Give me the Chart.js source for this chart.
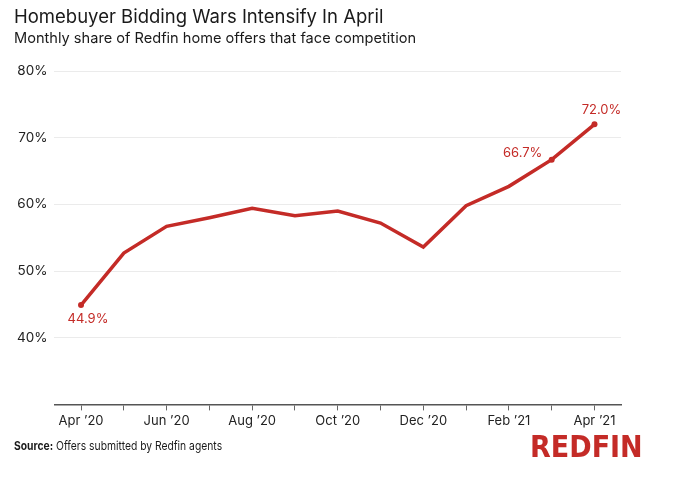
<!DOCTYPE html>
<html>
<head>
<meta charset="utf-8">
<script src="https://cdn.jsdelivr.net/npm/chart.js@4/dist/chart.umd.min.js"></script>
<style>
  html, body { margin: 0; padding: 0; background: #fff; }
  #wrap { width: 700px; height: 477px; position: relative; }
</style>
</head>
<body>
<div id="wrap"><canvas id="c" width="700" height="477"></canvas></div>
<script>
const months = ["Apr \u201920","May \u201920","Jun \u201920","Jul \u201920","Aug \u201920","Sep \u201920","Oct \u201920","Nov \u201920","Dec \u201920","Jan \u201921","Feb \u201921","Mar \u201921","Apr \u201921"];
const shareWithCompetition = [44.9, 52.7, 56.7, 58.0, 59.4, 58.3, 59.0, 57.2, 53.6, 59.8, 62.7, 66.7, 72.0];
const labeledPoints = [0, 11, 12];
const yTicks = [40, 50, 60, 70, 80];

const titleText = "Homebuyer Bidding Wars Intensify In April";
const subtitleText = "Monthly share of Redfin home offers that face competition";
const sourceLabel = "Source:";
const sourceText = " Offers submitted by Redfin agents";

const RED = "#c42b27";
const FONT = "Inter, 'Open Sans', sans-serif";

const points = shareWithCompetition.map((v, i) => ({ x: i, y: v }));

const decorPlugin = {
  id: 'decor',
  afterDraw(chart) {
    const ctx = chart.ctx;
    ctx.save();
    ctx.textBaseline = 'middle';
    ctx.textAlign = 'left';
    ctx.fillStyle = '#1a1a1a';
    ctx.font = "18.5px " + FONT;
    ctx.fillText(titleText, 14, 17);
    ctx.font = "14.6px " + FONT;
    ctx.fillText(subtitleText, 14, 39);
    // source (condensed)
    ctx.save();
    ctx.translate(14, 446);
    ctx.scale(0.86, 1);
    ctx.font = "bold 12px " + FONT;
    ctx.fillText(sourceLabel, 0, 0);
    const w = ctx.measureText(sourceLabel).width;
    ctx.font = "12px " + FONT;
    ctx.fillText(sourceText, w, 0);
    ctx.restore();
    // logo
    ctx.fillStyle = RED;
    ctx.font = "bold 30px 'Liberation Sans Narrow', 'DejaVu Sans Condensed', sans-serif";
    ctx.fillText("REDFIN", 530, 449);
    // data labels
    const meta = chart.getDatasetMeta(0);
    ctx.font = "13px " + FONT;
    ctx.fillStyle = RED;
    ctx.textAlign = 'center';
    labeledPoints.forEach(i => {
      const p = meta.data[i];
      const txt = shareWithCompetition[i].toFixed(1) + "%";
      if (i === 0) ctx.fillText(txt, p.x + 7, p.y + 14);
      else if (i === labeledPoints[labeledPoints.length - 1]) ctx.fillText(txt, p.x + 7, p.y - 14);
      else ctx.fillText(txt, p.x - 29, p.y - 7);
    });
    ctx.restore();
  }
};

new Chart(document.getElementById('c'), {
  type: 'line',
  data: {
    datasets: [{
      data: points,
      borderColor: RED,
      backgroundColor: RED,
      borderWidth: 3.5,
      tension: 0,
      pointRadius: shareWithCompetition.map((v, i) => labeledPoints.includes(i) ? 3 : 0),
      pointBorderWidth: 0,
      pointHoverRadius: 0
    }]
  },
  options: {
    responsive: false,
    animation: false,
    events: [],
    layout: { padding: { top: 71, left: 10, right: 79, bottom: 45 } },
    plugins: { legend: { display: false }, tooltip: { enabled: false } },
    scales: {
      x: {
        type: 'linear',
        min: -0.62, max: months.length - 1 + 0.62,
        afterBuildTicks: axis => { axis.ticks = months.map((m, i) => ({ value: i })); },
        grid: { display: true, drawOnChartArea: false, drawTicks: true, tickLength: 6, color: '#666' },
        border: { display: true, color: '#555', width: 1.5 },
        ticks: {
          autoSkip: false, maxRotation: 0, padding: 3,
          color: '#222', font: { family: FONT, size: 13 },
          callback: v => (Number.isInteger(v) && v % 2 === 0) ? months[v] : ''
        }
      },
      y: {
        min: 30, max: 80,
        afterBuildTicks: axis => { axis.ticks = [30].concat(yTicks).map(v => ({ value: v })); },
        grid: { color: '#ebebeb', drawTicks: false, lineWidth: 1 },
        border: { display: false },
        ticks: {
          padding: 7, color: '#222', font: { family: FONT, size: 13.5 },
          callback: v => v === 30 ? '' : v + '%'
        }
      }
    }
  },
  plugins: [decorPlugin]
});
</script>
</body>
</html>
